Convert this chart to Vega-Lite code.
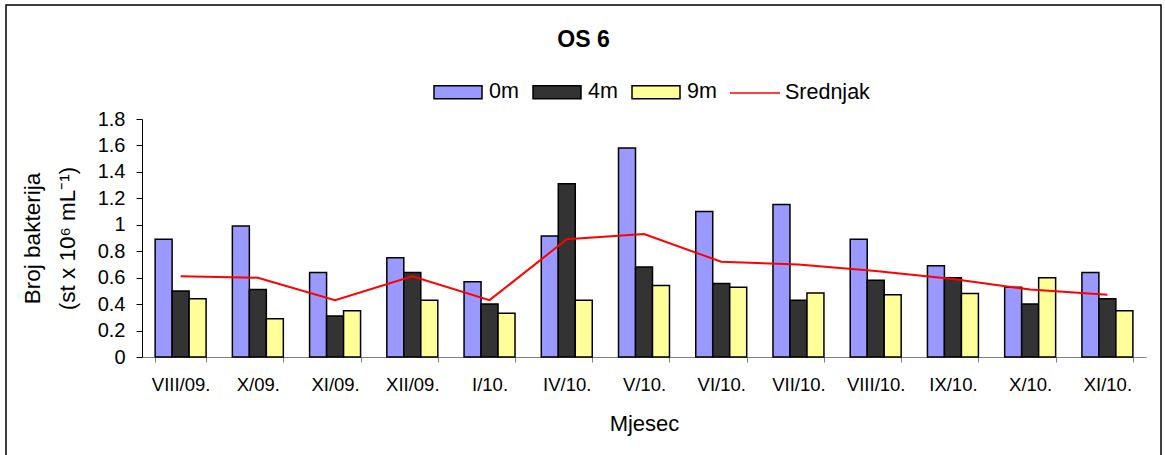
{
  "$schema": "https://vega.github.io/schema/vega-lite/v6.json",
  "autosize": "none",
  "width": 1155,
  "height": 455,
  "padding": {"left": 6, "top": 5, "right": 4, "bottom": 0},
  "background": "white",
  "config": {
    "font": "Liberation Sans",
    "view": {"stroke": "#000000", "strokeWidth": 1.5},
    "axis": {"grid": false, "labelColor": "#000000", "titleColor": "#000000", "labelFont": "Liberation Sans", "titleFont": "Liberation Sans"},
    "legend": {"labelFont": "Liberation Sans", "labelColor": "#000000"}
  },
  "title": {"text": "OS 6", "fontSize": 23, "fontWeight": "bold", "anchor": "middle", "frame": "group", "offset": -58, "baseline": "middle", "color": "#000000"},
  "data": {"values": [
    {"Mjesec": "VIII/09.", "0m": 0.89, "4m": 0.50, "9m": 0.44, "Srednjak": 0.61},
    {"Mjesec": "X/09.", "0m": 0.99, "4m": 0.51, "9m": 0.29, "Srednjak": 0.60},
    {"Mjesec": "XI/09.", "0m": 0.64, "4m": 0.31, "9m": 0.35, "Srednjak": 0.43},
    {"Mjesec": "XII/09.", "0m": 0.75, "4m": 0.64, "9m": 0.43, "Srednjak": 0.61},
    {"Mjesec": "I/10.", "0m": 0.57, "4m": 0.40, "9m": 0.33, "Srednjak": 0.43},
    {"Mjesec": "IV/10.", "0m": 0.915, "4m": 1.31, "9m": 0.43, "Srednjak": 0.89},
    {"Mjesec": "V/10.", "0m": 1.58, "4m": 0.68, "9m": 0.54, "Srednjak": 0.93},
    {"Mjesec": "VI/10.", "0m": 1.10, "4m": 0.555, "9m": 0.527, "Srednjak": 0.72},
    {"Mjesec": "VII/10.", "0m": 1.153, "4m": 0.43, "9m": 0.484, "Srednjak": 0.70},
    {"Mjesec": "VIII/10.", "0m": 0.89, "4m": 0.58, "9m": 0.47, "Srednjak": 0.65},
    {"Mjesec": "IX/10.", "0m": 0.69, "4m": 0.60, "9m": 0.48, "Srednjak": 0.59},
    {"Mjesec": "X/10.", "0m": 0.527, "4m": 0.40, "9m": 0.60, "Srednjak": 0.51},
    {"Mjesec": "XI/10.", "0m": 0.64, "4m": 0.44, "9m": 0.35, "Srednjak": 0.47}
  ]},
  "encoding": {
    "x": {
      "field": "Mjesec", "type": "nominal", "sort": null,
      "scale": {"range": [136, 1140], "paddingInner": 0.34, "paddingOuter": 0.17},
      "axis": {"offset": -103, "labelAngle": 0, "tickBand": "extent", "domainColor": "#808080", "tickColor": "#808080", "tickSize": 5, "labelFontSize": 18.5, "labelPadding": 13, "title": "Mjesec", "titleFontSize": 22, "titleFontWeight": "normal", "titlePadding": 20}
    }
  },
  "layer": [
    {
      "transform": [{"fold": ["0m", "4m", "9m"], "as": ["Dubina", "Vrijednost"]}],
      "mark": {"type": "bar", "stroke": "#000000", "strokeWidth": 1.5},
      "encoding": {
        "xOffset": {"field": "Dubina", "type": "nominal", "sort": ["0m", "4m", "9m"]},
        "y": {
          "field": "Vrijednost", "type": "quantitative",
          "scale": {"domain": [0, 1.8], "range": [352, 114], "nice": false},
          "axis": {"offset": -136, "values": [0, 0.2, 0.4, 0.6, 0.8, 1, 1.2, 1.4, 1.6, 1.8], "format": "~g", "domainColor": "#000000", "tickColor": "#000000", "tickSize": 6, "labelFontSize": 20, "labelPadding": 11, "title": ["Broj bakterija", "(st x 10⁶ mL⁻¹)"], "titleFontSize": 22.5, "titleFontWeight": "normal", "titleLineHeight": 35, "titlePadding": 18}
        },
        "fill": {
          "field": "Dubina", "type": "nominal",
          "scale": {"domain": ["0m", "4m", "9m"], "range": ["#9999FF", "#333333", "#FFFF99"]},
          "legend": {"title": null, "orient": "none", "direction": "horizontal", "legendX": 427, "legendY": 62, "symbolType": "M-1,-0.27H1V0.27H-1Z", "symbolSize": 2304, "symbolStrokeColor": "#000000", "symbolStrokeWidth": 1.5, "symbolOpacity": 1, "labelFontSize": 21.5, "labelOffset": 6, "columnPadding": 11, "padding": 0}
        }
      }
    },
    {
      "mark": {"type": "line", "strokeWidth": 2},
      "encoding": {
        "y": {"field": "Srednjak", "type": "quantitative"},
        "stroke": {
          "datum": "Srednjak",
          "scale": {"range": ["#FF0000"]},
          "legend": {"title": null, "orient": "none", "direction": "horizontal", "legendX": 723, "legendY": 62, "symbolType": "stroke", "symbolSize": 2500, "symbolStrokeWidth": 1.5, "labelFontSize": 21.5, "labelOffset": 4, "padding": 0}
        }
      }
    }
  ]
}
